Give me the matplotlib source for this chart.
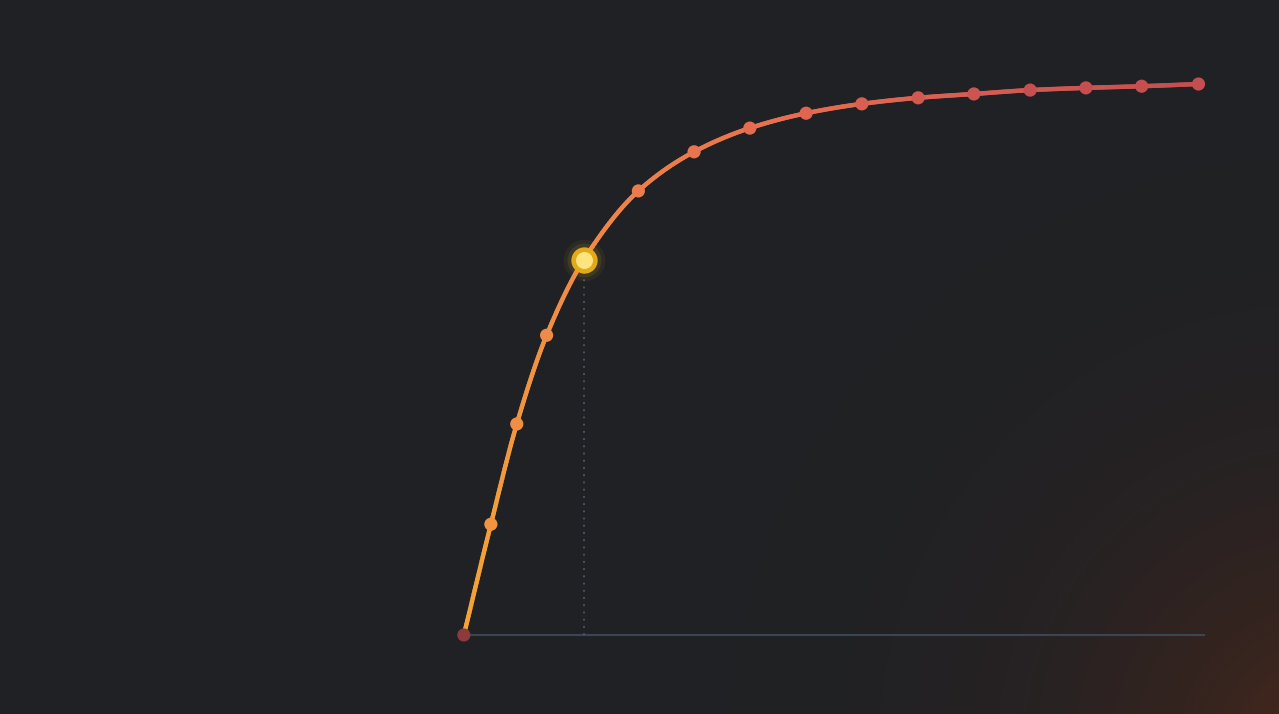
import numpy as np
import matplotlib.pyplot as plt
from matplotlib.collections import LineCollection
from matplotlib.colors import LinearSegmentedColormap

# -----------------------
# Data
# -----------------------
x_vals = [0.0, 0.48, 0.94, 1.47, 2.13, 3.10, 4.09, 5.08, 6.08, 7.07,
          8.07, 9.06, 10.06, 11.05, 12.04, 13.05]
y_vals = [0.0, 20.1, 38.3, 54.4, 68.1, 80.6, 87.7, 92.0, 94.7, 96.4,
          97.5, 98.2, 98.9, 99.3, 99.6, 100.0]
highlight_idx = 4

# -----------------------
# Style
# -----------------------
bg = "#1f2124"
line_cmap = LinearSegmentedColormap.from_list(
    "warm", ["#f4a536", "#ef8a48", "#e8704f", "#d65c53", "#c44e50"])
glow_cmap = LinearSegmentedColormap.from_list(
    "glow", [bg, "#272223", "#35241f", "#4a2a1c"])

xlim = (-8.24, 14.48)
ylim = (-14.34, 115.25)

fig = plt.figure(figsize=(12.79, 7.14), dpi=100)
fig.patch.set_facecolor(bg)

# background with warm glow in the bottom-right corner
bg_ax = fig.add_axes([0, 0, 1, 1])
bg_ax.set_axis_off()
gx, gy = np.meshgrid(np.linspace(0, 1279, 320), np.linspace(0, 714, 180))
dist = np.hypot(gx - 1330, gy + 40)
glow = np.clip(1 - dist / 620, 0, 1) ** 1.6
bg_ax.imshow(glow, cmap=glow_cmap, extent=(0, 1279, 0, 714), origin="lower",
             aspect="auto", vmin=0, vmax=1, interpolation="bilinear")
bg_ax.set_xlim(0, 1279)
bg_ax.set_ylim(0, 714)

ax = fig.add_axes([0, 0, 1, 1])
ax.set_facecolor("none")
ax.set_axis_off()
ax.set_xlim(*xlim)
ax.set_ylim(*ylim)

xs = np.array(x_vals)
ys = np.array(y_vals)

# smooth path through the points (monotone cubic, only for drawing the curve)
d = np.diff(ys) / np.diff(xs)
m = np.empty_like(ys)
m[0], m[-1] = d[0], d[-1]
m[1:-1] = np.where(d[:-1] * d[1:] > 0, 2 / (1 / d[:-1] + 1 / d[1:]), 0)
px, py = [], []
for i in range(len(xs) - 1):
    h = xs[i + 1] - xs[i]
    t = np.linspace(0, 1, 30, endpoint=False)
    h00 = 2 * t**3 - 3 * t**2 + 1
    h10 = t**3 - 2 * t**2 + t
    h01 = -2 * t**3 + 3 * t**2
    h11 = t**3 - t**2
    px.extend(xs[i] + t * h)
    py.extend(h00 * ys[i] + h10 * h * m[i] + h01 * ys[i + 1] + h11 * h * m[i + 1])
px.append(xs[-1])
py.append(ys[-1])
px, py = np.array(px), np.array(py)

# baseline and dotted guide
ax.plot([xs[0], 13.15], [0, 0], color="#3c4552", lw=1.5, zorder=1)
ax.plot([xs[highlight_idx]] * 2, [0, ys[highlight_idx]], color="#4d5866",
        lw=1.3, ls=(0, (1, 3)), zorder=1)

# gradient line
pts = np.column_stack([px, py]).reshape(-1, 1, 2)
segs = np.concatenate([pts[:-1], pts[1:]], axis=1)
frac = np.linspace(0, 1, len(segs))
lc = LineCollection(segs, colors=line_cmap(frac), linewidths=3.2,
                    capstyle="round", zorder=2)
ax.add_collection(lc)

# dots
pos = (xs - xs[0]) / (xs[-1] - xs[0])
dot_colors = line_cmap(np.clip(pos * 1.1 + 0.12, 0, 1))
dot_colors[0] = (0.55, 0.23, 0.24, 1)
mask = np.arange(len(xs)) != highlight_idx
ax.scatter(xs[mask], ys[mask], s=90, c=dot_colors[mask], linewidths=0, zorder=3)

# highlighted point
hx, hy = xs[highlight_idx], ys[highlight_idx]
for s, a in [(900, 0.06), (600, 0.10)]:
    ax.scatter([hx], [hy], s=s, color="#f5c030", alpha=a, linewidths=0, zorder=4)
ax.scatter([hx], [hy], s=360, color="#e2a91a", linewidths=0, zorder=5)
ax.scatter([hx], [hy], s=150, color="#fde47e", linewidths=0, zorder=6)

fig.savefig("out.png", dpi=100, facecolor=bg)
